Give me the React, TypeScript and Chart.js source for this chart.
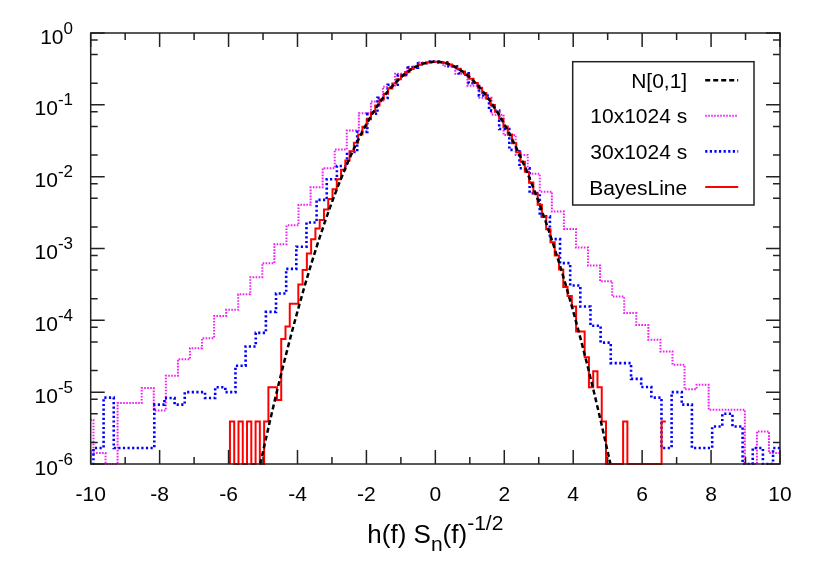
import React, { useEffect, useRef } from 'react';
import { Chart, registerables } from 'chart.js';

Chart.register(...registerables);

// ---------- axis ticks ----------
const X_MAJOR_TICKS = [-10, -8, -6, -4, -2, 0, 2, 4, 6, 8, 10];
const X_MINOR_TICKS = [-9, -7, -5, -3, -1, 1, 3, 5, 7, 9];
const Y_EXPONENTS = [0, -1, -2, -3, -4, -5, -6];
const Y_MINOR_MANTISSAS = [2, 5, 8];

// ---------- N[0,1] curve ----------
const GAUSS_X = [
  -5.08, -5.0, -4.8, -4.6, -4.4, -4.2, -4.0, -3.8, -3.6, -3.4, -3.2, -3.0, -2.8, -2.6,
  -2.4, -2.2, -2.0, -1.8, -1.6, -1.4, -1.2, -1.0, -0.8, -0.6, -0.4, -0.2, 0,
  0.2, 0.4, 0.6, 0.8, 1.0, 1.2, 1.4, 1.6, 1.8, 2.0, 2.2, 2.4, 2.6, 2.8, 3.0, 3.2,
  3.4, 3.6, 3.8, 4.0, 4.2, 4.4, 4.6, 4.8, 5.0, 5.08,
];
const GAUSS_Y = [
  1.0e-6, 1.487e-6, 3.963e-6, 1.014e-5, 2.494e-5, 5.894e-5, 1.338e-4, 2.919e-4, 6.119e-4,
  1.232e-3, 2.384e-3, 4.432e-3, 7.915e-3, 0.01358, 0.02239, 0.03547, 0.05399, 0.07895,
  0.1109, 0.1497, 0.1942, 0.242, 0.2897, 0.3332, 0.3683, 0.391, 0.3989,
  0.391, 0.3683, 0.3332, 0.2897, 0.242, 0.1942, 0.1497, 0.1109, 0.07895, 0.05399,
  0.03547, 0.02239, 0.01358, 7.915e-3, 4.432e-3, 2.384e-3, 1.232e-3, 6.119e-4,
  2.919e-4, 1.338e-4, 5.894e-5, 2.494e-5, 1.014e-5, 3.963e-6, 1.487e-6, 1.0e-6,
];

// ---------- histograms: first bin edge, bin width, bin heights ----------
const MAG_START = -10.27;
const MAG_WIDTH = 0.35;
const MAG_VALUES = [
  4.13e-6, 1.42e-6, 0, 7.05e-6, 7.05e-6, 1.14e-5, 5.57e-6, 1.69e-5, 2.88e-5, 4.1e-5,
  5.65e-5, 1.15e-4, 1.4e-4, 2.31e-4, 3.99e-4, 6.25e-4, 1.15e-3, 2.1e-3, 4.05e-3, 7.1e-3,
  0.0131, 0.0238, 0.0438, 0.0764, 0.111, 0.179, 0.27, 0.34, 0.39, 0.395,
  0.345, 0.27, 0.185, 0.125, 0.073, 0.038, 0.0201, 0.011, 6.19e-3, 3.27e-3,
  1.87e-3, 1.03e-3, 5.8e-4, 3.5e-4, 2.14e-4, 1.26e-4, 8.6e-5, 5.36e-5, 3.68e-5, 2.41e-5,
  1.1e-5, 1.27e-5, 5.69e-6, 5.69e-6, 5.69e-6, 0, 2.84e-6, 1.42e-6,
];

const BLUE_START = -10.2143;
const BLUE_WIDTH = 0.2943;
const BLUE_VALUES = [
  0, 1.67e-6, 8.4e-6, 1.67e-6, 1.67e-6, 1.67e-6, 1.67e-6, 6.7e-6, 8.3e-6, 6.7e-6,
  1.0e-5, 1.0e-5, 8.3e-6, 1.17e-5, 1.0e-5, 2.33e-5, 4.33e-5, 6.7e-5, 1.31e-4, 2.36e-4,
  5.2e-4, 1.06e-3, 2.3e-3, 4.75e-3, 9.2e-3, 0.0141, 0.022, 0.042, 0.075, 0.125,
  0.19, 0.26, 0.33, 0.38, 0.4, 0.39, 0.345, 0.275, 0.2, 0.135,
  0.083, 0.046, 0.0236, 0.0131, 5.9e-3, 2.8e-3, 1.35e-3, 6.25e-4, 3.05e-4, 1.56e-4,
  8.4e-5, 4.9e-5, 2.54e-5, 2.54e-5, 1.53e-5, 1.18e-5, 8.4e-6, 1.67e-6, 1.0e-5, 6.7e-6,
  1.67e-6, 1.67e-6, 3.33e-6, 5.0e-6, 3.33e-6, 0, 1.67e-6, 0, 1.67e-6,
];

const RED_START = -5.96;
const RED_WIDTH = 0.124;
const RED_VALUES = [
  3.9e-6, 0, 3.9e-6, 0, 3.9e-6, 0, 3.9e-6, 0, 3.9e-6, 1.17e-5,
  1.17e-5, 7.8e-6, 5.5e-5, 8.2e-5, 1.7e-4, 1.7e-4, 3.15e-4, 5.0e-4, 8.5e-4, 1.35e-3,
  1.9e-3, 2.5e-3, 3.5e-3, 4.9e-3, 6.7e-3, 9.2e-3, 0.0125, 0.0168, 0.0225, 0.0296,
  0.0385, 0.0495, 0.063, 0.079, 0.0975, 0.119, 0.1427, 0.1691, 0.1975, 0.227,
  0.2569, 0.2864, 0.3145, 0.3399, 0.3618, 0.3793, 0.3915, 0.398, 0.3984, 0.3927,
  0.3812, 0.3643, 0.3429, 0.3179, 0.2902, 0.2608, 0.2308, 0.2012, 0.1727, 0.146,
  0.1215, 0.0996, 0.0804, 0.0639, 0.05, 0.0386, 0.0293, 0.0219, 0.0161, 0.0117,
  0.0083, 0.00585, 0.00405, 0.00276, 0.00185, 0.00122, 8.0e-4, 5.1e-4, 2.9e-4, 2.19e-4,
  1.56e-4, 7.0e-5, 7.0e-5, 3.07e-5, 1.17e-5, 1.95e-5, 1.17e-5, 3.9e-6, 0, 0,
  0, 0, 3.9e-6, 0, 0, 0, 0, 0, 0, 0,
  0, 3.9e-6,
];

const LEGEND_LABELS = ['N[0,1]', '10x1024 s', '30x1024 s', 'BayesLine'];

const Y_MIN = 1e-6;
const Y_MAX = 1;
const FONT = '"Liberation Sans", Arial, Helvetica, sans-serif';

const STYLES = [
  { color: '#000000', width: 2.5, dash: [5, 3] },
  { color: '#f020f0', width: 2, dash: [1.6, 1.4] },
  { color: '#0000ff', width: 2.6, dash: [2.2, 2.4] },
  { color: '#ff0000', width: 2, dash: [] as number[] },
];

// bin i covers [start + i*width, start + (i+1)*width]
function histPoints(start: number, width: number, values: number[]) {
  const pts: { x: number; y: number }[] = [{ x: start, y: Y_MIN }];
  values.forEach((v, i) => pts.push({ x: start + i * width, y: v > 0 ? v : Y_MIN }));
  const last = values[values.length - 1];
  pts.push({ x: start + values.length * width, y: last > 0 ? last : Y_MIN });
  return pts;
}

const framePlugin = {
  id: 'gnuframe',
  afterDraw(chart: any) {
    const { ctx, chartArea, scales } = chart;
    const { left, right, top, bottom } = chartArea;
    const xs = scales.x;
    const ys = scales.y;
    ctx.save();
    ctx.strokeStyle = '#222';
    ctx.lineWidth = 1.5;
    ctx.setLineDash([]);
    ctx.strokeRect(left, top, right - left, bottom - top);

    const MAJ = 14;
    const MIN = 7;
    ctx.beginPath();
    const xTick = (v: number, len: number) => {
      const px = xs.getPixelForValue(v);
      ctx.moveTo(px, bottom);
      ctx.lineTo(px, bottom - len);
      ctx.moveTo(px, top);
      ctx.lineTo(px, top + len);
    };
    X_MAJOR_TICKS.forEach((v) => xTick(v, MAJ));
    X_MINOR_TICKS.forEach((v) => xTick(v, MIN));
    const yTick = (v: number, len: number) => {
      const py = ys.getPixelForValue(v);
      ctx.moveTo(left, py);
      ctx.lineTo(left + len, py);
      ctx.moveTo(right, py);
      ctx.lineTo(right - len, py);
    };
    Y_EXPONENTS.forEach((e) => yTick(Math.pow(10, e), MAJ));
    Y_EXPONENTS.forEach((e) => {
      if (e === 0) return;
      Y_MINOR_MANTISSAS.forEach((m) => yTick(m * Math.pow(10, e), MIN));
    });
    ctx.stroke();

    // x tick labels
    ctx.fillStyle = '#000';
    ctx.font = `21px ${FONT}`;
    ctx.textAlign = 'center';
    ctx.textBaseline = 'alphabetic';
    X_MAJOR_TICKS.forEach((v) => {
      ctx.fillText(String(v), xs.getPixelForValue(v), bottom + 37);
    });

    // y tick labels 10^e
    ctx.textAlign = 'left';
    const labelRight = 73;
    Y_EXPONENTS.forEach((e) => {
      const py = ys.getPixelForValue(Math.pow(10, e));
      ctx.font = `17px ${FONT}`;
      const sup = String(e);
      const supW = ctx.measureText(sup).width;
      ctx.font = `21px ${FONT}`;
      const baseW = ctx.measureText('10').width;
      ctx.fillText('10', labelRight - supW - baseW, py + 10.5);
      ctx.font = `17px ${FONT}`;
      ctx.fillText(sup, labelRight - supW, py + 0.5);
    });

    // x axis title: h(f) S_n(f)^{-1/2}
    const parts = [
      { t: 'h(f) S', size: 26, dy: 0 },
      { t: 'n', size: 21, dy: 8 },
      { t: '(f)', size: 26, dy: 0 },
      { t: '-1/2', size: 21, dy: -13 },
    ];
    let total = 0;
    parts.forEach((p) => {
      ctx.font = `${p.size}px ${FONT}`;
      total += ctx.measureText(p.t).width;
    });
    let cx = (left + right) / 2 - total / 2;
    const titleBase = bottom + 79;
    parts.forEach((p) => {
      ctx.font = `${p.size}px ${FONT}`;
      ctx.fillText(p.t, cx, titleBase + p.dy);
      cx += ctx.measureText(p.t).width;
    });

    // legend
    const bx = 572.7, by = 61.7, bw = 181.3, bh = 143.3;
    ctx.strokeStyle = '#222';
    ctx.lineWidth = 1.5;
    ctx.strokeRect(bx, by, bw, bh);
    ctx.font = `21px ${FONT}`;
    ctx.textAlign = 'right';
    LEGEND_LABELS.forEach((lab, i) => {
      const cy = by + 18.5 + i * 35.6;
      ctx.fillStyle = '#000';
      ctx.fillText(lab, bx + 114.5, cy + 7.5);
      const st = STYLES[i];
      ctx.beginPath();
      ctx.strokeStyle = st.color;
      ctx.lineWidth = st.width;
      ctx.setLineDash(st.dash);
      ctx.moveTo(bx + 132.5, cy);
      ctx.lineTo(bx + 165.5, cy);
      ctx.stroke();
    });
    ctx.setLineDash([]);
    ctx.restore();
  },
};

export default function App() {
  const ref = useRef<HTMLCanvasElement | null>(null);
  useEffect(() => {
    if (!ref.current) return;
    const gauss = GAUSS_X.map((x, i) => ({ x, y: GAUSS_Y[i] }));
    const clip = { left: 0, right: 0, top: 0, bottom: 1 };
    const chart = new Chart(ref.current, {
      type: 'line',
      data: {
        datasets: [
          {
            label: LEGEND_LABELS[0],
            data: gauss,
            borderColor: STYLES[0].color,
            borderWidth: STYLES[0].width,
            borderDash: STYLES[0].dash,
            pointRadius: 0,
            fill: false,
            tension: 0,
            clip,
            order: 0,
          },
          {
            label: LEGEND_LABELS[1],
            data: histPoints(MAG_START, MAG_WIDTH, MAG_VALUES),
            borderColor: STYLES[1].color,
            borderWidth: STYLES[1].width,
            borderDash: STYLES[1].dash,
            stepped: 'before',
            pointRadius: 0,
            fill: false,
            clip,
            order: 3,
          },
          {
            label: LEGEND_LABELS[2],
            data: histPoints(BLUE_START, BLUE_WIDTH, BLUE_VALUES),
            borderColor: STYLES[2].color,
            borderWidth: STYLES[2].width,
            borderDash: STYLES[2].dash,
            stepped: 'before',
            pointRadius: 0,
            fill: false,
            clip,
            order: 2,
          },
          {
            label: LEGEND_LABELS[3],
            data: histPoints(RED_START, RED_WIDTH, RED_VALUES),
            borderColor: STYLES[3].color,
            borderWidth: STYLES[3].width,
            stepped: 'before',
            pointRadius: 0,
            fill: false,
            clip,
            order: 1,
          },
        ] as any,
      },
      options: {
        responsive: false,
        maintainAspectRatio: false,
        devicePixelRatio: 1,
        animation: false,
        events: [],
        layout: { padding: { left: 90.7, right: 50, top: 33, bottom: 117 } },
        scales: {
          x: { type: 'linear', min: -10, max: 10, display: false },
          y: { type: 'logarithmic', min: Y_MIN, max: Y_MAX, display: false },
        },
        plugins: { legend: { display: false }, tooltip: { enabled: false } },
      } as any,
      plugins: [framePlugin],
    });
    return () => chart.destroy();
  }, []);
  return (
    <div style={{ position: 'absolute', left: 0, top: 0, width: 830, height: 581, background: '#fff' }}>
      <canvas ref={ref} width={830} height={581} style={{ display: 'block' }} />
    </div>
  );
}
